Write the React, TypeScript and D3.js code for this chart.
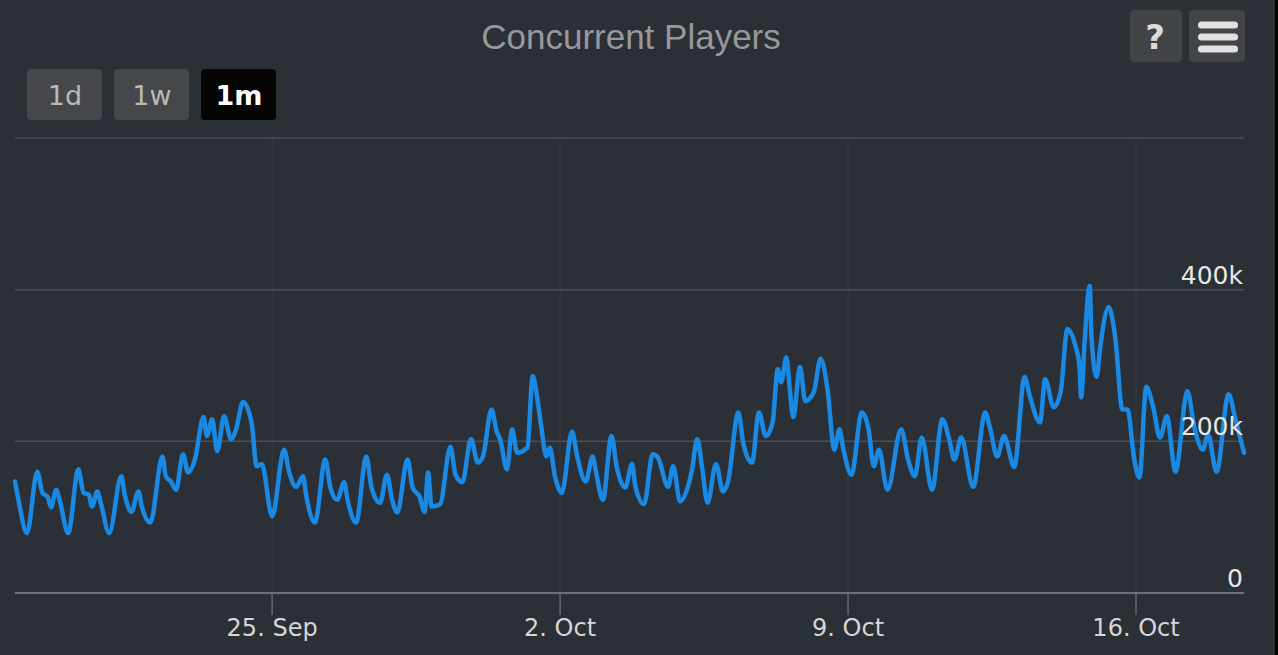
import React, { useEffect, useRef } from 'react';
import * as d3 from 'd3';

// hours after 18 Sep 2017 00:00 UTC
const hours = [
  18, 20, 25, 31, 34, 37, 39, 42, 44, 49, 55, 58, 61, 63, 66, 68, 73, 80, 82, 86,
  90, 92, 97, 104, 106, 109, 112, 116, 119, 123, 128, 130, 133, 136, 140, 144, 147, 151, 156, 159,
  162, 168, 175, 178, 182, 186, 188, 193, 199, 202, 206, 210, 212, 217, 223, 226, 231, 235, 238, 241,
  247, 250, 254, 257, 259, 261, 266, 272, 275, 279, 284, 288, 291, 296, 299, 301, 305, 308, 311, 317,
  320, 323, 325, 328, 330, 333, 337, 343, 346, 351, 355, 357, 361, 366, 369, 374, 378, 380, 385, 390,
  393, 399, 402, 406, 410, 413, 416, 419, 422, 427, 431, 434, 440, 443, 448, 452, 456, 460, 463, 465,
  468, 470, 472, 476, 479, 484, 488, 492, 496, 499, 501, 506, 512, 516, 519, 522, 527, 535, 539, 543,
  547, 553, 559, 563, 566, 570, 577, 584, 587, 591, 595, 601, 607, 610, 616, 619, 624, 628, 632, 636,
  639, 640, 642, 645, 646, 649, 651, 656, 660, 664, 667, 671, 674, 678, 682, 686, 690, 695, 702, 706,
  711, 714, 719, 726, 730, 735,
];

// concurrent players, thousands
const players = [
  147, 123, 79, 160, 132, 127, 113, 136, 123, 79, 163, 132, 130, 114, 134, 119, 79, 154, 130, 107,
  134, 114, 93, 180, 154, 147, 136, 183, 159, 176, 232, 207, 229, 187, 233, 203, 216, 252, 225, 167,
  170, 101, 189, 159, 140, 154, 127, 93, 176, 139, 123, 146, 123, 93, 180, 139, 119, 156, 123, 106,
  176, 139, 127, 107, 159, 114, 117, 193, 156, 146, 203, 172, 180, 242, 213, 203, 163, 216, 185, 192,
  286, 252, 220, 180, 192, 154, 132, 213, 180, 147, 180, 159, 123, 207, 167, 139, 170, 140, 117, 183,
  179, 140, 167, 121, 136, 163, 203, 163, 119, 170, 134, 147, 238, 196, 172, 238, 207, 225, 295, 278,
  311, 269, 232, 298, 253, 265, 309, 269, 189, 216, 193, 156, 238, 216, 167, 189, 136, 216, 176, 154,
  205, 136, 229, 203, 176, 205, 140, 238, 216, 180, 207, 166, 285, 260, 225, 282, 245, 265, 348, 331,
  299, 258, 331, 405, 339, 285, 322, 377, 335, 242, 242, 176, 152, 272, 245, 205, 233, 160, 266, 219,
  189, 209, 160, 262, 229, 185,
];

const yTicks = [0, 200000, 400000, 600000];
const yLabels = ['0', '200k', '400k', ''];
const rangeButtons = ['1d', '1w', '1m'];
const selectedRange = '1m';
const title = 'Concurrent Players';

const W = 1278;
const H = 655;
const BG = '#2b2f36';

export default function App() {
  const ref = useRef<SVGSVGElement>(null);

  useEffect(() => {
    if (!ref.current) return;
    const svg = d3.select(ref.current);
    svg.selectAll('*').remove();

    const base = Date.UTC(2017, 8, 18);
    const data = hours.map((h, i) => ({ t: new Date(base + h * 3600e3), v: players[i] * 1000 }));

    const left = 15, right = 1244, top = 138, bottom = 593;

    const x = d3.scaleUtc()
      .domain(d3.extent(data, d => d.t) as [Date, Date])
      .range([left, right]);
    const y = d3.scaleLinear().domain([0, 600000]).range([bottom, top]);

    svg.append('rect').attr('width', W).attr('height', H).attr('fill', BG);
    svg.append('rect').attr('x', 1275).attr('width', 3).attr('height', H).attr('fill', '#000');

    // title
    svg.append('text')
      .attr('x', 631).attr('y', 49)
      .attr('text-anchor', 'middle')
      .attr('font-family', 'Liberation Sans, Arial, sans-serif')
      .attr('font-size', 35)
      .attr('fill', '#96989b')
      .text(title);

    // range selector
    rangeButtons.forEach((b, i) => {
      const bx = 27 + i * 87;
      const sel = b === selectedRange;
      svg.append('rect')
        .attr('x', bx).attr('y', 69).attr('width', 75).attr('height', 51).attr('rx', 4)
        .attr('fill', sel ? '#050505' : '#46474a');
      svg.append('text')
        .attr('x', bx + 38).attr('y', 105)
        .attr('text-anchor', 'middle')
        .attr('font-family', 'DejaVu Sans, sans-serif')
        .attr('font-weight', sel ? 'bold' : 'normal')
        .attr('font-size', 27)
        .attr('fill', sel ? '#ffffff' : '#b8b8b8')
        .text(b);
    });

    // help + menu buttons
    svg.append('rect').attr('x', 1130).attr('y', 10).attr('width', 52).attr('height', 52).attr('rx', 4).attr('fill', '#434447');
    svg.append('text')
      .attr('x', 1155).attr('y', 49).attr('text-anchor', 'middle')
      .attr('font-family', 'DejaVu Sans, sans-serif').attr('font-weight', 'bold')
      .attr('font-size', 34).attr('fill', '#dcdcdc').text('?');
    svg.append('rect').attr('x', 1189).attr('y', 10).attr('width', 56).attr('height', 52).attr('rx', 4).attr('fill', '#434447');
    [25, 37, 49].forEach(cy => {
      svg.append('rect')
        .attr('x', 1198).attr('y', cy - 3.5).attr('width', 40).attr('height', 7).attr('rx', 3.5)
        .attr('fill', '#e2e2e2');
    });

    // x grid + ticks
    const xTicks = x.ticks(d3.utcMonday.every(1)!);
    const fmt = d3.utcFormat('%-d. %b');
    xTicks.forEach(t => {
      const px = x(t);
      svg.append('line')
        .attr('x1', px).attr('x2', px).attr('y1', top).attr('y2', bottom)
        .attr('stroke', '#383c43').attr('stroke-width', 1);
      svg.append('line')
        .attr('x1', px).attr('x2', px).attr('y1', bottom).attr('y2', 615)
        .attr('stroke', '#74777b').attr('stroke-width', 1.2);
      svg.append('text')
        .attr('x', px).attr('y', 636)
        .attr('text-anchor', 'middle')
        .attr('font-family', 'DejaVu Sans, sans-serif')
        .attr('font-size', 24)
        .attr('fill', '#d6d6d6')
        .text(fmt(t));
    });

    // y grid
    yTicks.forEach((v, i) => {
      svg.append('line')
        .attr('x1', left).attr('x2', right).attr('y1', y(v)).attr('y2', y(v))
        .attr('stroke', v === 0 ? '#6e7175' : '#4c4f54')
        .attr('stroke-width', v === 0 ? 2 : 1.5);
      if (yLabels[i]) {
        svg.append('text')
          .attr('x', 1243).attr('y', y(v) - 6)
          .attr('text-anchor', 'end')
          .attr('font-family', 'DejaVu Sans, sans-serif')
          .attr('font-size', 25)
          .attr('fill', '#e6e6e6')
          .text(yLabels[i]);
      }
    });

    // series
    const line = d3.line<{ t: Date; v: number }>()
      .x(d => x(d.t))
      .y(d => y(d.v))
      .curve(d3.curveMonotoneX);

    svg.append('path')
      .datum(data)
      .attr('d', line)
      .attr('fill', 'none')
      .attr('stroke', '#1a89e4')
      .attr('stroke-width', 4.5)
      .attr('stroke-linejoin', 'round')
      .attr('stroke-linecap', 'round');

    // 200k label sits over the line
    svg.selectAll('text').filter(function () { return d3.select(this).text() === '200k'; }).raise();
  }, []);

  return (
    <div style={{ position: 'fixed', left: 0, top: 0, width: W, height: H, background: BG }}>
      <svg ref={ref} width={W} height={H} style={{ display: 'block' }} />
    </div>
  );
}
